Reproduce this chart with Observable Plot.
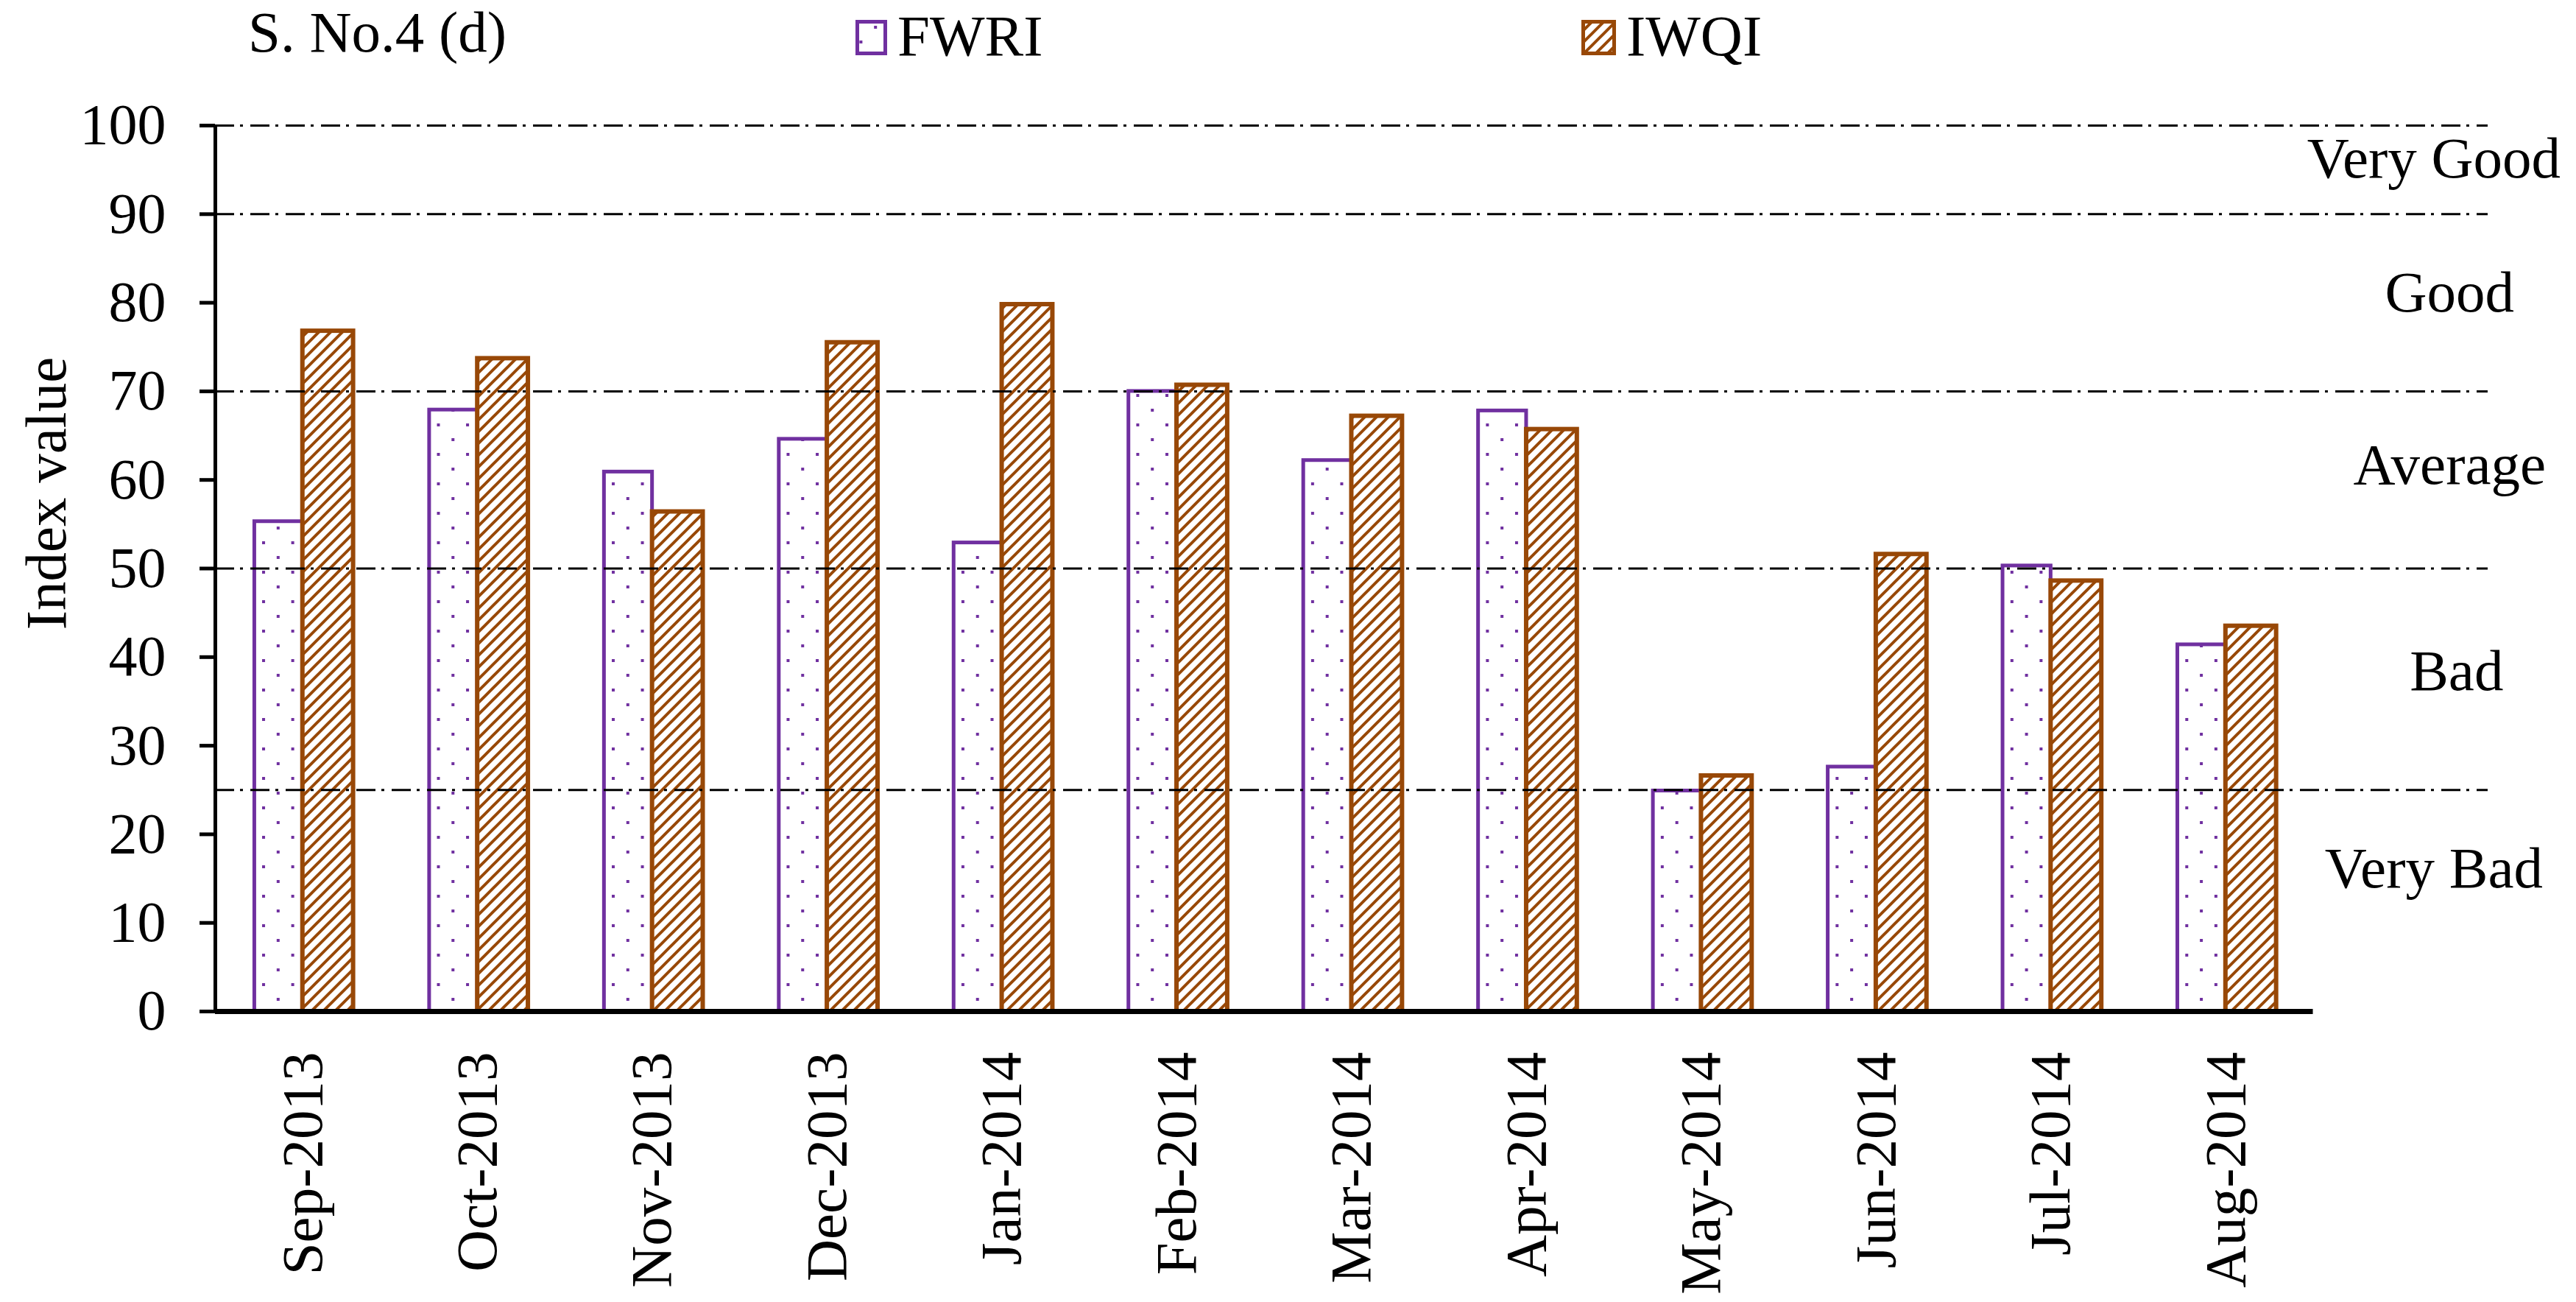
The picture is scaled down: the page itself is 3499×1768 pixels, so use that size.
<!DOCTYPE html>
<html>
<head>
<meta charset="utf-8">
<script src="https://cdn.jsdelivr.net/npm/d3@7"></script>
<script src="https://cdn.jsdelivr.net/npm/@observablehq/plot@0.6"></script>
<style>
  html, body { margin: 0; padding: 0; background: #fff; }
  body { width: 3499px; height: 1768px; overflow: hidden; font-family: "Liberation Serif", "Times New Roman", serif; }
  #header { display: block; }
  #chart svg { display: block; }
</style>
</head>
<body>
<svg width="0" height="0" style="position:absolute">
  <defs>
    <pattern id="dots" patternUnits="userSpaceOnUse" width="39.58" height="40" x="-0.2" y="35">
      <rect width="39.58" height="40" fill="#fff"></rect>
      <rect x="0" y="0" width="4" height="4" fill="#7030A0"></rect>
      <rect x="19.8" y="20" width="4" height="4" fill="#7030A0"></rect>
    </pattern>
    <pattern id="hatch" patternUnits="userSpaceOnUse" width="16" height="16">
      <rect width="16" height="16" fill="#fff"></rect>
      <path d="M-4,4 L4,-4 M0,16 L16,0 M12,20 L20,12" stroke="#984807" stroke-width="4"></path>
    </pattern>
  </defs>
</svg>
<svg id="header" width="3499" height="100" font-family="Liberation Serif, Times New Roman, serif" font-size="79">
  <text x="337" y="70" fill="#000">S. No.4 (d)</text>
  <rect x="1164.5" y="29.5" width="38" height="43" fill="url(#dots)" stroke="#7030A0" stroke-width="5"></rect>
  <text x="1219" y="75" fill="#000">FWRI</text>
  <rect x="2150.5" y="29.5" width="42" height="43" fill="url(#hatch)" stroke="#984807" stroke-width="5"></rect>
  <text x="2209" y="75" fill="#000">IWQI</text>
</svg>
<div id="chart"></div>
<script>
// ---- data ----
const months = ["Sep-2013", "Oct-2013", "Nov-2013", "Dec-2013", "Jan-2014", "Feb-2014",
                "Mar-2014", "Apr-2014", "May-2014", "Jun-2014", "Jul-2014", "Aug-2014"];
const fwri = [55.3, 67.9, 60.9, 64.6, 52.9, 70.0, 62.2, 67.8, 24.9, 27.6, 50.3, 41.4];
const iwqi = [76.8, 73.7, 56.4, 75.5, 79.8, 70.7, 67.2, 65.7, 26.6, 51.6, 48.6, 43.5];
const classBounds = [25, 50, 70, 90, 100];
const yTicks = [0, 10, 20, 30, 40, 50, 60, 70, 80, 90, 100];
const zoneLabels = ["Very Good", "Good", "Average", "Bad", "Very Bad"];
const zoneY = [94.1, 79.0, 59.6, 36.3, 14.0];
const zoneX = [12.69, 12.78, 12.78, 12.82, 12.69];

// ---- tables built from the arrays ----
const fwriRows = months.map((m, i) => ({i, month: m, value: fwri[i]}));
const iwqiRows = months.map((m, i) => ({i, month: m, value: iwqi[i]}));
const zones = zoneLabels.map((t, k) => ({label: t, x: zoneX[k], y: zoneY[k]}));

const purple = "#7030A0";
const brown = "#984807";
const font = "Liberation Serif, Times New Roman, serif";

const chart = Plot.plot({
  width: 3499,
  height: 1668,
  marginTop: 70,
  marginLeft: 292,
  marginRight: 120,
  marginBottom: 395,
  style: {fontFamily: font, fontSize: "79px", color: "#000", background: "#fff", overflow: "visible"},
  x: {type: "linear", domain: [0, months.length + 1]},
  y: {domain: [0, 100]},
  marks: [
    Plot.rectY(fwriRows, {x1: d => d.i + 0.225, x2: d => d.i + 0.5, y1: 0, y2: "value",
      fill: "url(#dots)", stroke: purple, strokeWidth: 5}),
    Plot.rectY(iwqiRows, {x1: d => d.i + 0.5, x2: d => d.i + 0.79, y1: 0, y2: "value",
      fill: "url(#hatch)", stroke: brown, strokeWidth: 6}),
    Plot.ruleY(classBounds, {stroke: "#000", strokeWidth: 3, strokeDasharray: "26,8,4,10"}),
    Plot.axisY({ticks: yTicks, tickSize: 21, tickPadding: 46, strokeWidth: 5, fontSize: 78, label: null, tickFormat: d => String(d)}),
    Plot.axisX({ticks: months.map((m, i) => i + 0.5), tickFormat: d => months[Math.floor(d)],
      tickRotate: -90, tickSize: 0, tickPadding: 55, fontSize: 79, label: null}),
    Plot.ruleX([0], {y1: 0, y2: 100, stroke: "#000", strokeWidth: 5}),
    Plot.ruleY([0], {x1: () => 0, x2: () => months.length, stroke: "#000", strokeWidth: 7}),
    Plot.text(zones, {x: "x", y: "y", text: "label", lineAnchor: "bottom", textAnchor: "middle", fontSize: 79, fill: "#000"}),
    Plot.text(["Index value"], {frameAnchor: "left", rotate: -90, dx: -204, dy: -102, lineAnchor: "bottom", textAnchor: "middle", fontSize: 79, fill: "#000"})
  ]
});
document.getElementById("chart").appendChild(chart);
</script>
</body>
</html>
